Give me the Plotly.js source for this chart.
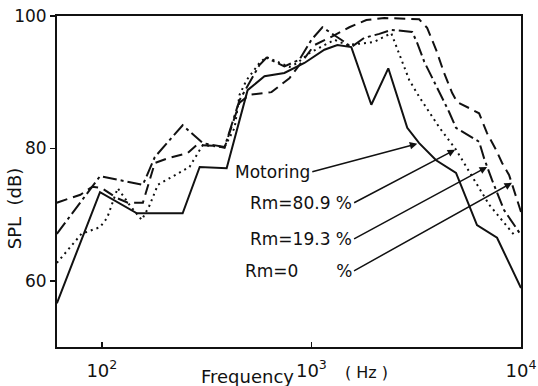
<!DOCTYPE html>
<html>
<head>
<meta charset="utf-8">
<script src="https://cdn.plot.ly/plotly-3.0.1.min.js"></script>
<style>
  html, body { margin: 0; padding: 0; background: #fff; }
  #chart { width: 538px; height: 386px; }
</style>
</head>
<body>
<div id="chart"></div>
<script>
// Sound pressure level spectra (1/3 octave), SPL in dB vs frequency in Hz
const motoringFreq = [61, 98, 147, 243, 293, 394, 496, 597, 743, 926, 1153, 1330, 1550, 1931, 2327, 2866, 3267, 3935, 4898, 6166, 7686, 10000];
const motoringSPL  = [56.6, 73.4, 70.2, 70.2, 77.2, 77.0, 88.8, 90.9, 91.4, 92.9, 94.9, 95.6, 95.3, 86.6, 92.1, 83.1, 80.8, 78.2, 76.3, 68.4, 66.5, 58.9];

const rm809Freq = [61, 80, 98, 106, 119, 136, 155, 169, 185, 223, 262, 303, 385, 430, 454, 490, 565, 610, 681, 785, 857, 977, 1290, 1484, 1787, 1995, 2404, 2685, 2932, 3267, 4070, 4898, 5970, 7047, 9462];
const rm809SPL  = [62.7, 67.1, 68.1, 69.5, 74.0, 71.4, 69.2, 71.4, 74.5, 76.0, 77.2, 80.5, 80.2, 83.1, 88.1, 90.3, 92.9, 93.8, 93.1, 92.3, 92.9, 94.4, 96.4, 95.6, 95.9, 96.1, 97.4, 93.4, 90.3, 87.8, 83.2, 79.8, 75.2, 71.5, 66.6];

const rm193Freq = [61, 98, 157, 179, 243, 303, 385, 454, 565, 610, 743, 877, 1000, 1128, 1435, 1550, 1787, 2109, 2404, 3027, 3199, 3453, 4539, 4898, 6310, 6668, 7278, 8299, 10000];
const rm193SPL  = [67.1, 75.8, 74.5, 78.7, 83.5, 80.8, 80.2, 87.3, 92.6, 93.7, 92.4, 93.4, 96.4, 98.3, 96.1, 95.3, 96.7, 97.3, 97.9, 97.6, 95.9, 93.1, 85.5, 83.1, 81.0, 78.5, 75.2, 70.7, 66.9];

const rm0Freq = [61, 79, 90, 100, 118, 133, 157, 179, 206, 257, 283, 345, 385, 454, 507, 645, 785, 877, 1033, 1290, 1517, 1828, 2228, 3267, 3565, 3935, 4295, 4690, 4955, 5649, 6310, 6887, 7600, 8126, 8770, 10000];
const rm0SPL  = [71.8, 73.0, 74.2, 74.0, 72.5, 71.8, 71.8, 77.8, 78.5, 79.3, 80.5, 80.4, 80.1, 86.9, 88.1, 88.5, 90.6, 92.6, 95.6, 97.1, 98.3, 99.4, 99.7, 99.5, 98.2, 94.9, 91.4, 88.4, 87.0, 86.1, 85.3, 82.3, 79.8, 77.8, 76.0, 70.4];

const xTickVals = [100, 1000, 10000];
const xTickText = ['10<sup>2</sup>', '10<sup>3</sup>', '10<sup>4</sup>'];
const yTickVals = [60, 80, 100];

// Curve labels and the point each arrow touches: [label, arrow tip freq, arrow tip SPL]
const NB = '\u00a0';
const curveLabels = [
  ['Motoring', 3200, 80.7],
  ['Rm=80.9' + NB + '%', 4850, 79.8],
  ['Rm=19.3' + NB + '%', 6890, 77.2],
  ['Rm=0' + NB.repeat(7) + '%', 9060, 74.8]
];

const INK = '#111';
const FONT = 'DejaVu Sans';

function curve(x, y, dash) {
  return {
    x: x, y: y, type: 'scatter', mode: 'lines',
    line: { color: INK, width: 2, dash: dash },
    hoverinfo: 'skip'
  };
}

const data = [
  curve(motoringFreq, motoringSPL, 'solid'),
  curve(rm809Freq, rm809SPL, '2px,4px'),
  curve(rm193Freq, rm193SPL, '14px,4px,3px,4px'),
  curve(rm0Freq, rm0SPL, '11px,6px')
];

const lg = Math.log10;

// arrow tail offsets (px) from each tip; the label's right edge sits at the tail
const tailOffsets = [
  { ax: -105, ay: 28 },
  { ax: -101, ay: 53 },
  { ax: -133, ay: 72 },
  { ax: -158, ay: 88 }
];

const annotations = curveLabels.map(function (c, i) {
  const t = tailOffsets[i];
  return {
    x: lg(c[1]), y: c[2], xref: 'x', yref: 'y', text: c[0],
    showarrow: true, ax: t.ax, ay: t.ay, axref: 'pixel', ayref: 'pixel',
    xanchor: 'right', yanchor: 'middle',
    arrowhead: 2, arrowsize: 1, arrowwidth: 1.5, arrowcolor: INK, standoff: 0, startstandoff: 0,
    font: { family: FONT, size: 17, color: INK }
  };
});

// axis titles
annotations.push({
  xref: 'paper', yref: 'paper', x: 0.411, y: -0.09, text: 'Frequency',
  showarrow: false, xanchor: 'center', yanchor: 'middle',
  font: { family: FONT, size: 18, color: INK }
});
annotations.push({
  xref: 'paper', yref: 'paper', x: 0.668, y: -0.078, text: '( Hz )',
  showarrow: false, xanchor: 'center', yanchor: 'middle',
  font: { family: FONT, size: 16, color: INK }
});
annotations.push({
  xref: 'paper', yref: 'paper', x: -0.09, y: 0.42, text: 'SPL  (dB)',
  showarrow: false, xanchor: 'center', yanchor: 'middle', textangle: -90,
  font: { family: FONT, size: 18, color: INK }
});

const layout = {
  width: 538, height: 386,
  margin: { l: 57, r: 17, t: 16, b: 39, pad: 0 },
  paper_bgcolor: '#fff', plot_bgcolor: '#fff',
  showlegend: false,
  xaxis: {
    type: 'log', range: [lg(61.1), 4],
    showgrid: false, zeroline: false,
    showline: true, linecolor: INK, linewidth: 2, mirror: true,
    ticks: 'inside', ticklen: 5, tickwidth: 1.5, tickcolor: INK,
    tickvals: xTickVals, ticktext: xTickText, ticklabelstandoff: 6,
    tickfont: { family: FONT, size: 18, color: INK }
  },
  yaxis: {
    range: [50, 100],
    showgrid: false, zeroline: false,
    showline: true, linecolor: INK, linewidth: 2, mirror: true,
    ticks: 'outside', ticklen: 5, tickwidth: 1.5, tickcolor: INK,
    tickvals: yTickVals,
    tickfont: { family: FONT, size: 17, color: INK }
  },
  annotations: annotations
};

Plotly.newPlot('chart', data, layout, { staticPlot: true, displayModeBar: false });
</script>
</body>
</html>
